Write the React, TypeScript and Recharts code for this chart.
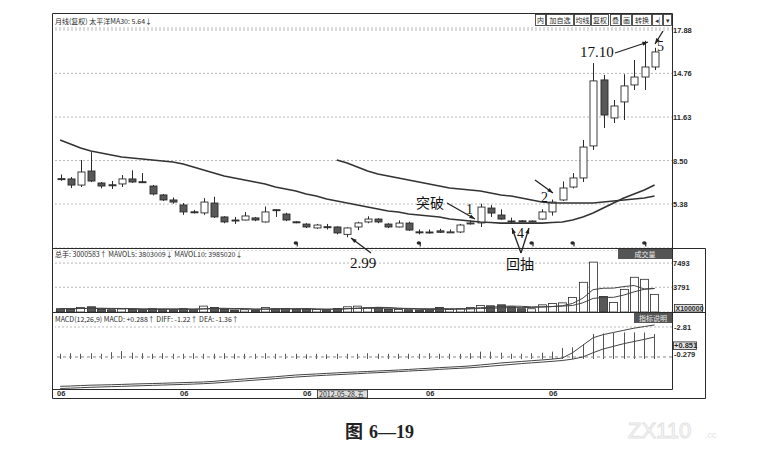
import React from "react";
import {
  ComposedChart,
  Bar,
  Line,
  Scatter,
  XAxis,
  YAxis,
  CartesianGrid,
  ReferenceLine,
} from "recharts";

// monthly candles (price)
const open = [
  7.2, 7.18, 6.74, 7.75, 6.89, 6.76, 6.82, 7.18, 6.98, 6.67, 6.03, 5.67, 5.31, 4.82, 4.74, 5.45, 4.45, 4.23, 4.23, 4.38,
  4.09, 4.97, 4.66, 4.1, 3.94, 3.66, 3.75, 3.73, 3.2, 3.73, 4.09, 4.3, 3.94, 3.73, 4.01, 3.38, 3.37, 3.45, 3.36, 3.37,
  3.98, 4.02, 5.09, 4.59, 4.16, 4.17, 4.14, 4.3, 4.81, 5.67, 6.6, 7.25, 9.55, 14.29, 11.56, 12.71, 13.93, 14.5, 15.22,
];
const high = [
  7.5, 7.32, 8.54, 9.1, 6.96, 7.03, 7.46, 7.8, 7.6, 6.75, 6.1, 5.85, 5.45, 4.95, 5.8, 5.9, 4.5, 4.45, 4.8, 4.45,
  5.2, 5.0, 4.75, 4.15, 4.0, 3.95, 3.95, 3.78, 3.7, 4.1, 4.5, 4.35, 4.0, 4.2, 4.1, 3.55, 3.55, 3.6, 3.55, 3.95,
  4.2, 5.4, 5.3, 5.0, 4.4, 4.22, 4.2, 5.0, 5.7, 7.0, 7.6, 9.98, 15.5, 14.65, 12.85, 14.7, 15.72, 17.1, 16.6,
];
const low = [
  7.05, 6.53, 6.6, 6.95, 6.5, 6.46, 6.6, 6.9, 6.9, 6.0, 5.6, 5.4, 4.6, 4.7, 4.6, 4.38, 4.0, 3.95, 4.2, 4.15,
  4.05, 4.45, 4.15, 4.0, 3.65, 3.6, 3.55, 3.2, 2.99, 3.5, 4.0, 4.0, 3.65, 3.7, 3.45, 3.2, 3.25, 3.3, 3.3, 3.3,
  3.9, 3.73, 4.45, 4.25, 3.95, 4.1, 4.08, 4.25, 4.55, 5.6, 6.5, 6.96, 9.26, 10.84, 11.2, 11.41, 13.57, 13.57, 15.0,
];
const close = [
  7.15, 6.74, 7.68, 7.03, 6.67, 6.72, 7.18, 6.96, 6.95, 6.1, 5.67, 5.52, 4.81, 4.8, 5.52, 4.45, 4.09, 4.2, 4.52, 4.23,
  4.81, 4.95, 4.23, 4.08, 3.73, 3.87, 3.72, 3.3, 3.66, 4.02, 4.3, 4.09, 3.73, 4.01, 3.51, 3.36, 3.36, 3.35, 3.38, 3.87,
  4.02, 5.16, 4.73, 4.3, 4.15, 4.15, 4.16, 4.81, 5.52, 6.53, 7.25, 9.47, 14.22, 11.77, 12.42, 13.86, 14.5, 15.22, 16.3,
];
const maFast = [
  9.98, 9.69, 9.4, 9.19, 9.04, 8.9, 8.76, 8.68, 8.61, 8.54, 8.47, 8.4, 8.25, 8.04, 7.82, 7.61, 7.39, 7.25, 7.1, 6.96,
  6.82, 6.6, 6.46, 6.31, 6.1, 5.95, 5.74, 5.6, 5.45, 5.31, 5.16, 5.02, 4.88, 4.81, 4.66, 4.59, 4.52, 4.45, 4.3, 4.23,
  4.16, 4.09, 4.05, 4.01, 4.01, 4.01, 4.01, 4.01, 4.05, 4.09, 4.23, 4.45, 4.73, 5.09, 5.45, 5.81, 6.1, 6.39, 6.74,
];
const maSlow = [
  null, null, null, null, null, null, null, null, null, null, null, null, null, null, null, null, null, null, null, null,
  null, null, null, null, null, null, null, 8.54, 8.33, 8.04, 7.75, 7.54, 7.39, 7.25, 7.1, 6.96, 6.82, 6.67, 6.53, 6.46,
  6.39, 6.31, 6.17, 6.03, 5.95, 5.81, 5.67, 5.52, 5.45, 5.45, 5.45, 5.45, 5.45, 5.52, 5.6, 5.67, 5.74, 5.81, 5.95,
];

// volume (x100000)
const volume = [
  500, 450, 700, 800, 400, 350, 450, 400, 350, 500, 400, 350, 500, 350, 900, 700, 400, 300, 350, 300,
  700, 500, 550, 400, 450, 400, 350, 550, 800, 900, 650, 700, 400, 400, 350, 300, 350, 700, 400, 500,
  700, 1000, 950, 1100, 800, 500, 500, 1100, 1300, 1400, 2240, 4550, 7640, 2390, 1470, 3470, 5320, 5010, 2700,
];
const volMa5 = [
  520, 510, 530, 570, 570, 540, 540, 480, 390, 410, 420, 410, 420, 420, 500, 560, 570, 530, 530, 410,
  410, 430, 480, 490, 520, 460, 430, 430, 510, 600, 650, 720, 690, 590, 500, 430, 360, 420, 420, 450,
  530, 660, 710, 850, 910, 870, 790, 800, 840, 960, 1310, 2120, 3430, 3640, 3660, 3900, 4060, 3530, 3590,
];
const volMa10 = [
  540, 530, 530, 540, 550, 545, 540, 525, 490, 480, 480, 475, 480, 450, 455, 490, 495, 475, 475, 455,
  455, 485, 505, 490, 500, 435, 420, 455, 495, 545, 555, 575, 570, 550, 555, 515, 505, 520, 505, 475,
  465, 545, 565, 640, 665, 675, 700, 750, 830, 905, 1000, 1410, 2080, 2240, 2250, 2600, 3090, 3480, 3620,
];

// MACD(12,26,9)
const diff = [
  -2.75, -2.72, -2.68, -2.64, -2.62, -2.6, -2.57, -2.54, -2.51, -2.49, -2.46, -2.43, -2.4, -2.37, -2.34, -2.28, -2.2, -2.13, -2.06, -1.99,
  -1.92, -1.85, -1.77, -1.69, -1.64, -1.59, -1.54, -1.49, -1.44, -1.4, -1.36, -1.31, -1.27, -1.22, -1.17, -1.11, -1.06, -1.0, -0.95, -0.9,
  -0.84, -0.75, -0.66, -0.56, -0.49, -0.42, -0.35, -0.28, -0.2, -0.1, 0.4, 1.1, 1.8, 2.1, 2.3, 2.5, 2.7, 2.85, 3.0,
];
const dea = [
  -2.95, -2.92, -2.88, -2.84, -2.81, -2.78, -2.75, -2.72, -2.69, -2.66, -2.63, -2.6, -2.57, -2.54, -2.5, -2.45, -2.38, -2.31, -2.24, -2.17,
  -2.1, -2.03, -1.95, -1.88, -1.82, -1.76, -1.71, -1.66, -1.61, -1.56, -1.51, -1.47, -1.42, -1.37, -1.32, -1.27, -1.22, -1.16, -1.11, -1.06,
  -1.01, -0.94, -0.86, -0.78, -0.7, -0.62, -0.55, -0.48, -0.41, -0.33, -0.2, 0.0, 0.4, 0.75, 1.0, 1.25, 1.45, 1.65, 1.87,
];
const macdHist = [
  0.3, 0.35, 0.3, 0.35, 0.3, 0.45, 0.55, 0.4, 0.35, 0.3, 0.35, 0.3, 0.3, 0.35, 0.3, 0.3, 0.35, 0.3, 0.3, 0.3,
  0.35, 0.3, 0.3, 0.3, 0.25, 0.3, 0.25, 0.3, 0.3, 0.3, 0.35, 0.3, 0.3, 0.3, 0.3, 0.3, 0.35, 0.3, 0.3, 0.3,
  0.35, 0.5, 0.5, 0.4, 0.3, 0.3, 0.35, 0.4, 0.5, 0.85, 0.9, 1.2, 2.15, 2.2, 2.25, 2.3, 2.3, 2.3, 2.15,
];

const priceTicks = [5.38, 8.5, 11.63, 14.76, 17.88];
const volTicks = [3791, 7493];
const macdTicks = [0.279, 0.851, 2.81];
const macdTickLabels = ["-0.279", "+0.851", "-2.81"];
const dateTicks = [0, 12, 24, 36, 48];
const dateLabel = "06";
const eventMonths = [23, 35, 46, 50, 57];
const eventLevel = 2.58;

const rows = open.map((o, i) => ({
  i,
  open: o,
  high: high[i],
  low: low[i],
  close: close[i],
  range: [low[i], high[i]],
  maFast: maFast[i],
  maSlow: maSlow[i],
  volume: volume[i],
  volMa5: volMa5[i],
  volMa10: volMa10[i],
  diff: diff[i],
  dea: dea[i],
  macd: macdHist[i],
}));
const eventRows = eventMonths.map((i) => ({ i, ev: eventLevel }));

const X_DOMAIN: [number, number] = [-0.5, 59.7];
const CHART_W = 712;
const MARGIN = { top: 0, right: 0, bottom: 0, left: 55 };
const INK = "#2a2a2a";
const DARK = "#585858";
const NUM_FONT = "'Liberation Sans', Arial, sans-serif";
const CJK_FONT = "'Noto Sans CJK SC', sans-serif";
const SERIF = "'Liberation Serif', 'DejaVu Serif', serif";

const Candle = (props: any) => {
  const { x, y, width, height, payload } = props;
  const { open: o, close: c, high: h, low: l } = payload;
  const span = h - l || 1;
  const py = (v: number) => y + ((h - v) / span) * height;
  const cx = Math.round(x + width / 2) + 0.5;
  const top = py(Math.max(o, c));
  const bh = Math.max(py(Math.min(o, c)) - top, 1);
  const up = c >= o;
  return (
    <g>
      <line x1={cx} x2={cx} y1={y} y2={y + height} stroke={INK} strokeWidth={1} />
      <rect x={cx - 3.5} y={top} width={7} height={bh} fill={up ? "#fff" : DARK} stroke={INK} strokeWidth={0.9} />
    </g>
  );
};

const VolBar = (props: any) => {
  const { x, y, width, height, payload } = props;
  const up = payload.close >= payload.open;
  const cx = Math.round(x + width / 2) + 0.5;
  return (
    <rect x={cx - 4} y={y} width={8} height={Math.max(height, 1.5)} fill={up ? "#fff" : DARK} stroke={INK} strokeWidth={0.8} />
  );
};

const MacdStick = (props: any) => {
  const { x, y, width, height } = props;
  const cx = Math.round(x + width / 2) + 0.5;
  return <line x1={cx} x2={cx} y1={y} y2={y + height + 2} stroke="#555" strokeWidth={1} />;
};

const EventMark = (props: any) => {
  const { cx, cy } = props;
  return (
    <g fill={INK}>
      <ellipse cx={cx} cy={cy} rx={2.2} ry={1.8} />
      <rect x={cx + 0.8} y={cy} width={1.2} height={3.5} />
    </g>
  );
};

const PriceTick = (props: any) => {
  const { x, y, payload } = props;
  return (
    <text x={x + 1} y={y + 3} fontSize={7.5} fontWeight="bold" fontFamily={NUM_FONT} fill={INK}>
      {payload.value.toFixed(2)}
    </text>
  );
};

const VolTick = (props: any) => {
  const { x, y, payload } = props;
  return (
    <text x={x + 1} y={y + 3} fontSize={7.5} fontWeight="bold" fontFamily={NUM_FONT} fill={INK}>
      {payload.value}
    </text>
  );
};

const MacdTick = (props: any) => {
  const { x, y, payload } = props;
  const k = macdTicks.findIndex((t) => Math.abs(t - payload.value) < 1e-6);
  const label = macdTickLabels[k < 0 ? 0 : k];
  const boxed = label.startsWith("+");
  return (
    <g>
      {boxed && <rect x={x + 1.5} y={y - 6} width={23} height={7.5} fill="#e6e6e6" stroke={INK} strokeWidth={0.8} />}
      <text x={x + 2} y={boxed ? y + 0.6 : y + 2.6} fontSize={7.5} fontWeight="bold" fontFamily={NUM_FONT} fill={INK}>
        {label}
      </text>
    </g>
  );
};

const DateTick = (props: any) => {
  const { x, y } = props;
  return (
    <text x={x - 3} y={y + 7} fontSize={7.5} fontWeight="bold" fontFamily={NUM_FONT} fill={INK}>
      {dateLabel}
    </text>
  );
};

const Arrow = ({ x1, y1, x2, y2 }: { x1: number; y1: number; x2: number; y2: number }) => {
  const a = Math.atan2(y2 - y1, x2 - x1);
  const s = 6;
  const p1 = [x2 - s * Math.cos(a - 0.35), y2 - s * Math.sin(a - 0.35)];
  const p2 = [x2 - s * Math.cos(a + 0.35), y2 - s * Math.sin(a + 0.35)];
  return (
    <g>
      <line x1={x1} y1={y1} x2={x2} y2={y2} stroke="#222" strokeWidth={1.3} />
      <polygon points={`${x2},${y2} ${p1[0]},${p1[1]} ${p2[0]},${p2[1]}`} fill="#222" />
    </g>
  );
};

const toolbar = [
  { t: "内", x: 535, w: 10 },
  { t: "加自选", x: 546, w: 27 },
  { t: "均线", x: 574, w: 16 },
  { t: "复权", x: 591, w: 17 },
  { t: "叠", x: 610, w: 10 },
  { t: "画", x: 621, w: 10 },
  { t: "转换", x: 632, w: 19 },
  { t: "◂|", x: 652, w: 10 },
  { t: "▾", x: 663, w: 8 },
];

const Overlay = () => (
  <svg width={758} height={457} style={{ position: "absolute", left: 0, top: 0, pointerEvents: "none" }}>
    <g stroke={INK} strokeWidth={1} fill="none">
      <line x1={52.5} y1={13.5} x2={672.5} y2={13.5} />
      <line x1={52.5} y1={13.5} x2={52.5} y2={398.5} />
      <line x1={672.5} y1={13.5} x2={672.5} y2={389.5} />
      <line x1={52.5} y1={248.5} x2={705.5} y2={248.5} />
      <line x1={52.5} y1={312.5} x2={705.5} y2={312.5} />
      <line x1={52.5} y1={389.5} x2={672.5} y2={389.5} />
      <line x1={52.5} y1={398.5} x2={705.5} y2={398.5} />
      <line x1={705.5} y1={248.5} x2={705.5} y2={398.5} />
    </g>

    {/* panel headers */}
    <text x={55} y={24} fontSize={7} fontFamily={CJK_FONT} fill={INK}>
      月线(复权) 太平洋MA30: 5.64↓
    </text>
    <text x={55} y={257} fontSize={7} fontFamily={CJK_FONT} fill={INK}>
      总手: 3000583↑ MAVOL5: 3803009↓ MAVOL10: 3985020↓
    </text>
    <text x={55} y={322} fontSize={7} fontFamily={CJK_FONT} fill={INK}>
      MACD(12,26,9) MACD: +0.288↑ DIFF: -1.22↑ DEA: -1.36↑
    </text>

    {/* toolbar */}
    {toolbar.map((b) => (
      <g key={b.t}>
        <rect x={b.x + 0.5} y={14.5} width={b.w} height={11} fill="#fff" stroke={INK} strokeWidth={0.8} />
        <text x={b.x + 0.5 + b.w / 2} y={23} fontSize={7} textAnchor="middle" fontFamily={CJK_FONT} fill={INK}>
          {b.t}
        </text>
      </g>
    ))}

    {/* panel tags */}
    <rect x={618} y={249} width={54} height={10} fill="#555" />
    <text x={645} y={257} fontSize={7} textAnchor="middle" fontFamily={CJK_FONT} fill="#eee">成交量</text>
    <rect x={634} y={313} width={38} height={10} fill="#555" />
    <text x={653} y={321} fontSize={7} textAnchor="middle" fontFamily={CJK_FONT} fill="#eee">指标说明</text>
    <rect x={674.5} y={304.5} width={28} height={7.5} fill="#e6e6e6" stroke={INK} strokeWidth={0.8} />
    <text x={675.5} y={311} fontSize={7} fontFamily={NUM_FONT} fontWeight="bold" fill={INK}>X100000</text>
    <rect x={317.5} y={390} width={50} height={8} fill="#ddd" stroke={INK} strokeWidth={0.8} />
    <text x={319} y={396.5} fontSize={7} fontFamily={CJK_FONT} fill={INK}>2012-05-28,五</text>

    {/* annotations */}
    <text x={580} y={57} fontSize={15} fontFamily={SERIF} fill="#111">17.10</text>
    <Arrow x1={615} y1={53} x2={648} y2={42} />
    <text x={657} y={51} fontSize={14} fontFamily={SERIF} fill="#111">5</text>
    <Arrow x1={663} y1={31} x2={655} y2={44} />
    <text x={416} y={208} fontSize={14} fontFamily={CJK_FONT} fill="#111">突破</text>
    <Arrow x1={447} y1={203} x2={475} y2={219} />
    <text x={466} y={214} fontSize={14} fontFamily={SERIF} fill="#111">1</text>
    <text x={541} y={202} fontSize={14} fontFamily={SERIF} fill="#111">2</text>
    <Arrow x1={535} y1={180} x2={553} y2={193} />
    <text x={517} y={238} fontSize={14} fontFamily={SERIF} fill="#111">4</text>
    <Arrow x1={521} y1={253} x2={512} y2={228} />
    <Arrow x1={521} y1={253} x2={529} y2={228} />
    <text x={506} y={269} fontSize={14} fontFamily={CJK_FONT} fill="#111">回抽</text>
    <text x={350} y={268} fontSize={15} fontFamily={SERIF} fill="#111">2.99</text>
    <Arrow x1={371} y1={253} x2={351} y2={238} />

    {/* caption and watermark */}
    <text x={345} y={438} fontSize={18} fontWeight="bold" fontFamily={CJK_FONT} fill="#222">图</text>
    <text x={369} y={438} fontSize={18} fontWeight="bold" fontFamily={SERIF} fill="#222">6—19</text>
    <text x={628} y={438} fontSize={22} fontFamily={NUM_FONT} fill="none" stroke="#e2e2e2" strokeWidth={1}>ZX110</text>
    <text x={705} y={438} fontSize={9} fontFamily={NUM_FONT} fill="#e2e2e2">.cc</text>
  </svg>
);

const App = () => (
  <div style={{ position: "absolute", left: 0, top: 0, width: 758, height: 457, background: "#fff", overflow: "hidden" }}>
    {/* price panel */}
    <div style={{ position: "absolute", left: 0, top: 0 }}>
      <ComposedChart width={CHART_W} height={248} data={rows} margin={{ ...MARGIN, top: 28 }}>
        <CartesianGrid vertical={false} stroke="#b8b8b8" strokeDasharray="2 2" />
        <XAxis type="number" dataKey="i" domain={X_DOMAIN} allowDataOverflow hide />
        <YAxis
          orientation="right"
          width={40}
          domain={[2.22, 18.02]}
          ticks={priceTicks}
          interval={0}
          allowDataOverflow
          axisLine={false}
          tickLine={false}
          tickSize={0}
          tickMargin={0}
          tick={<PriceTick />}
        />
        <Line dataKey="maFast" stroke="#333" strokeWidth={1.6} dot={false} isAnimationActive={false} />
        <Line dataKey="maSlow" stroke="#333" strokeWidth={1.6} dot={false} isAnimationActive={false} />
        <Bar dataKey="range" barSize={7} shape={<Candle />} isAnimationActive={false} />
        <Scatter data={eventRows} dataKey="ev" shape={<EventMark />} isAnimationActive={false} />
      </ComposedChart>
    </div>

    {/* volume panel */}
    <div style={{ position: "absolute", left: 0, top: 250 }}>
      <ComposedChart width={CHART_W} height={62} data={rows} margin={MARGIN}>
        <CartesianGrid vertical={false} stroke="#b8b8b8" strokeDasharray="2 2" />
        <XAxis type="number" dataKey="i" domain={X_DOMAIN} allowDataOverflow hide />
        <YAxis
          orientation="right"
          width={40}
          domain={[0, 9500]}
          ticks={volTicks}
          interval={0}
          allowDataOverflow
          axisLine={false}
          tickLine={false}
          tickSize={0}
          tickMargin={0}
          tick={<VolTick />}
        />
        <Bar dataKey="volume" barSize={8} shape={<VolBar />} isAnimationActive={false} />
        <Line dataKey="volMa5" stroke="#444" strokeWidth={1} dot={false} isAnimationActive={false} />
        <Line dataKey="volMa10" stroke="#444" strokeWidth={1} dot={false} isAnimationActive={false} />
      </ComposedChart>
    </div>

    {/* MACD panel */}
    <div style={{ position: "absolute", left: 0, top: 313 }}>
      <ComposedChart width={CHART_W} height={86} data={rows} margin={MARGIN}>
        <XAxis
          type="number"
          dataKey="i"
          domain={X_DOMAIN}
          allowDataOverflow
          ticks={dateTicks}
          interval={0}
          height={10}
          axisLine={false}
          tickLine={false}
          tickSize={0}
          tickMargin={0}
          tick={<DateTick />}
        />
        <YAxis
          orientation="right"
          width={40}
          domain={[-3.0, 4.12]}
          ticks={macdTicks}
          interval={0}
          allowDataOverflow
          axisLine={false}
          tickLine={false}
          tickSize={0}
          tickMargin={0}
          tick={<MacdTick />}
        />
        <ReferenceLine y={0} stroke="#888" strokeDasharray="3 3" />
        <ReferenceLine y={2.81} stroke="#bbb" strokeDasharray="2 2" />
        <Bar dataKey="macd" barSize={2} shape={<MacdStick />} isAnimationActive={false} />
        <Line dataKey="diff" stroke="#444" strokeWidth={1} dot={false} isAnimationActive={false} />
        <Line dataKey="dea" stroke="#444" strokeWidth={1} dot={false} isAnimationActive={false} />
      </ComposedChart>
    </div>

    <Overlay />
  </div>
);

export default App;
